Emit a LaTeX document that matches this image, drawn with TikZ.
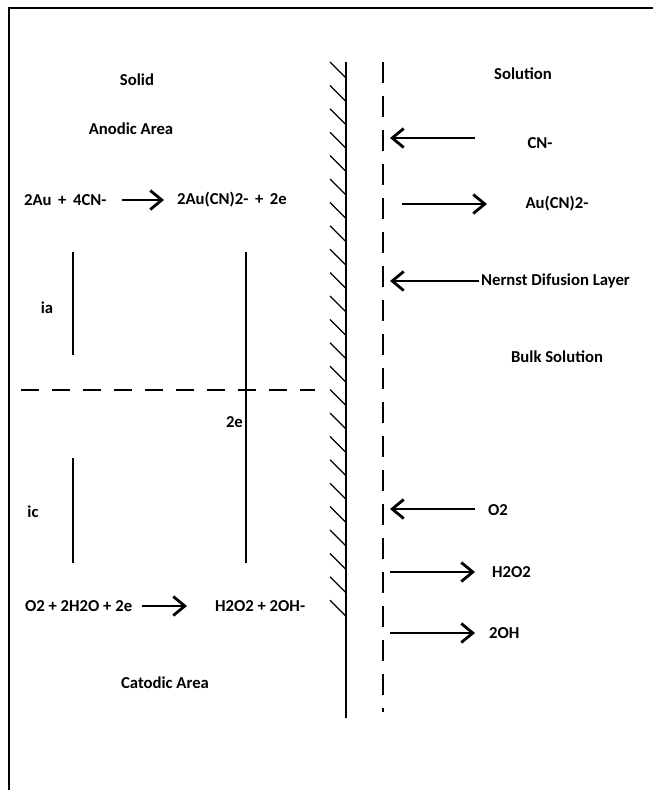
\documentclass[tikz,border=0pt]{standalone}
\usepackage{fontspec}
\setmainfont{Carlito}
\usepackage{tikz}
\usetikzlibrary{positioning,arrows.meta}
\tikzset{
  lbl/.style={font=\fontsize{9.5}{11}\selectfont\bfseries, inner sep=1pt},
  flow/.style={-{Straight Barb[length=2.3mm,width=3.8mm]}, line width=1.6pt},
  frame/.style={line width=1.3pt},
  wall/.style={line width=0.8pt},
  hatch/.style={line width=0.7pt},
  film/.style={line width=0.7pt, dash pattern=on 0.42cm off 0.26cm},
  split/.style={line width=0.7pt, dash pattern=on 0.36cm off 0.26cm},
  cur/.style={line width=0.8pt},
}

\begin{document}
\begin{tikzpicture}[x=0.2mm,y=-0.2mm]
  \useasboundingbox (0,0) rectangle (653,790);
  \draw[frame] (9,790) -- (9,8) -- (653,8);

  % electrode surface and diffusion layer
  \draw[wall] (346,62) -- (346,718);
  \foreach \k in {0,...,23}
    \draw[hatch] (330,62+23.4*\k) -- ++(16,16);
  \draw[film] (383,62) -- (383,712);
  \draw[split] (21,390) -- (315,390);

  % solid side
  \node[lbl] (solid) at (137,80) {Solid};
  \node[lbl] (anodic) at (131,129) {Anodic Area};
  \node[lbl,anchor=west] (anR) at (22,200) {2Au \,+\, 4CN-};
  \node[lbl,anchor=west] (anP) at (175,200) {2Au(CN)2- \,+\, 2e};
  \draw[flow,shorten <=2.6mm,shorten >=2.2mm] (anR) -- (anP);

  \coordinate (iaT) at (73,252);  \coordinate (iaB) at (73,355);
  \coordinate (icT) at (73,458);  \coordinate (icB) at (73,563);
  \coordinate (eT) at (246,252);  \coordinate (eB) at (246,563);
  \draw[cur] (iaT) -- (iaB);
  \draw[cur] (icT) -- (icB);
  \draw[cur] (eT) -- (eB);
  \node[lbl] (ia) at (47,308) {ia};
  \node[lbl] (ic) at (33,512) {ic};
  \node[lbl,anchor=east] (e2) at (245,422) {2e};

  \node[lbl,anchor=west] (caR) at (23,606) {O2 + 2H2O + 2e};
  \node[lbl,anchor=west] (caP) at (213,606) {H2O2 + 2OH-};
  \draw[flow,shorten <=1.6mm,shorten >=5.2mm] (caR) -- (caP);
  \node[lbl] (catodic) at (165,683) {Catodic Area};

  % solution side
  \node[lbl] (soln) at (523,74) {Solution};
  \node[lbl] (cn) at (540,143) {CN-};
  \node[lbl] (aucn) at (557,204) {Au(CN)2-};
  \node[lbl,anchor=west] (nernst) at (479,281) {Nernst Difusion Layer};
  \node[lbl] (bulk) at (557,357) {Bulk Solution};
  \node[lbl,anchor=west] (o2) at (486,510) {O2};
  \node[lbl,anchor=west] (h2o2) at (490,572) {H2O2};
  \node[lbl,anchor=west] (oh) at (487,633) {2OH};

  \coordinate (cnA) at (475,138);  \coordinate (cnB) at (390,138);
  \coordinate (auA) at (402,204);  \coordinate (auB) at (487,204);
  \coordinate (nB) at (390,281);
  \coordinate (o2A) at (475,509);  \coordinate (o2B) at (390,509);
  \coordinate (hA) at (390,572);   \coordinate (hB) at (475,572);
  \coordinate (ohA) at (390,633);  \coordinate (ohB) at (475,633);
  \draw[flow] (cnA) -- (cnB);
  \draw[flow] (auA) -- (auB);
  \draw[flow] (nernst.west) -- (nB);
  \draw[flow] (o2A) -- (o2B);
  \draw[flow] (hA) -- (hB);
  \draw[flow] (ohA) -- (ohB);
\end{tikzpicture}
\end{document}
